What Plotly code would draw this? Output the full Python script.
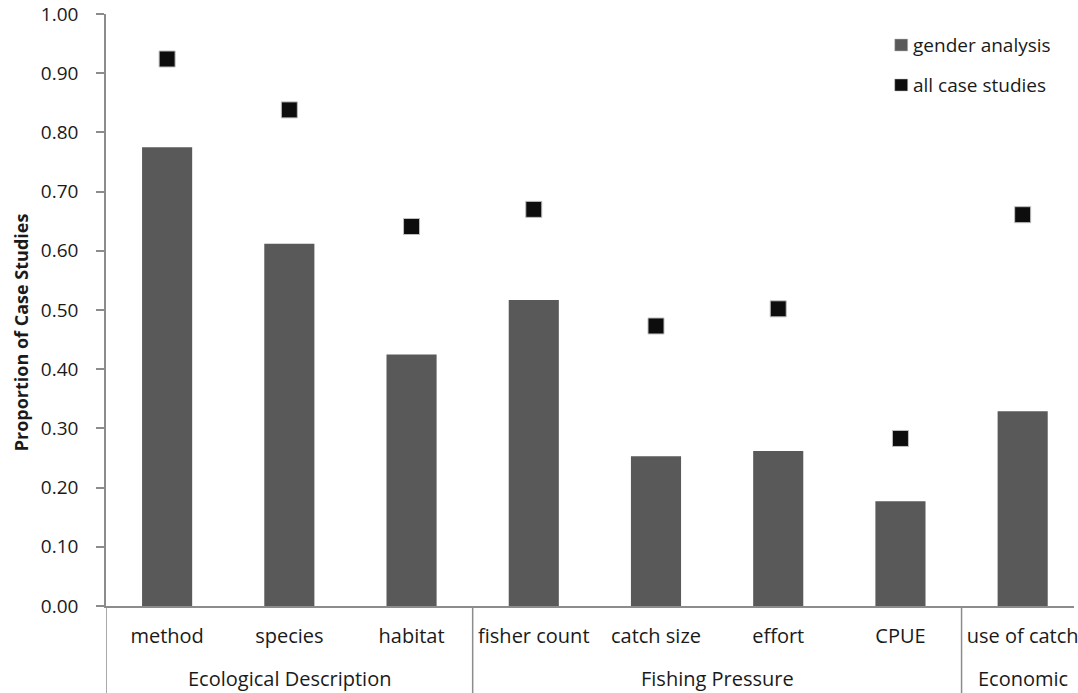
import plotly.graph_objects as go

categories = ["method", "species", "habitat", "fisher count", "catch size",
              "effort", "CPUE", "use of catch"]
group_names = ["Ecological Description", "Fishing Pressure", "Economic"]
group_sizes = [3, 4, 1]
gender_analysis = [0.775, 0.612, 0.425, 0.517, 0.253, 0.262, 0.177, 0.329]
all_case_studies = [0.924, 0.838, 0.641, 0.670, 0.473, 0.502, 0.283, 0.661]
y_ticks = [0.0, 0.1, 0.2, 0.3, 0.4, 0.5, 0.6, 0.7, 0.8, 0.9, 1.0]

FONT = "Open Sans"
AXIS_GREY = "#8c8c8c"
TEXT = "#1a1a1a"
BAR_COLOR = "#595959"
SQ_COLOR = "#0d0d0d"

W, H = 1078, 693
ML, MR, MT, MB = 106, 0, 14, 87
PW, PH = W - ML - MR, H - MT - MB


def px_x(p):
    return (p - ML) / PW


def px_y(p):
    return 1 - (p - MT) / PH


fig = go.Figure()
fig.add_trace(go.Bar(
    x=categories, y=gender_analysis, name="gender analysis",
    marker=dict(color=BAR_COLOR, line=dict(width=0)), width=0.41,
))
fig.add_trace(go.Scatter(
    x=categories, y=all_case_studies, name="all case studies",
    mode="markers",
    marker=dict(symbol="square", size=16, color=SQ_COLOR,
                line=dict(color="#bfbfbf", width=1)),
))

fig.update_layout(
    width=W, height=H,
    margin=dict(l=ML, r=MR, t=MT, b=MB, pad=0),
    paper_bgcolor="white", plot_bgcolor="white",
    font=dict(family=FONT, size=20, color=TEXT),
    showlegend=False,
)
fig.update_xaxes(
    type="category", range=[-0.5, 7.42],
    showline=True, linecolor=AXIS_GREY, linewidth=1.5,
    ticks="", showgrid=False, zeroline=False,
    tickfont=dict(size=20, family=FONT, color=TEXT),
    ticklabelstandoff=11,
)
fig.update_yaxes(
    range=[0, 1.0], tickvals=y_ticks, tickformat=".2f",
    showline=True, linecolor=AXIS_GREY, linewidth=1.5,
    ticks="outside", ticklen=8, tickcolor=AXIS_GREY, tickwidth=1.5,
    showgrid=False, zeroline=False,
    tickfont=dict(size=19, family=FONT, color=TEXT),
    ticklabelstandoff=14,
)

# group dividers below the category axis (including left edge)
bottom = -MB / PH
start = 0
bounds = [-0.5]
for n in group_sizes:
    start += n
    bounds.append(start - 0.5)
for b in bounds[:-1]:
    fig.add_shape(type="line", xref="x", yref="paper", x0=b, x1=b,
                  y0=0, y1=bottom, line=dict(color=AXIS_GREY, width=1.5))

# group labels
start = 0
for name, n in zip(group_names, group_sizes):
    center = start + (n - 1) / 2
    fig.add_annotation(text=name, xref="x", yref="paper", x=center,
                       y=px_y(678), xanchor="center", yanchor="middle",
                       showarrow=False, font=dict(size=20, family=FONT, color=TEXT))
    start += n

# manual legend
legend_items = [("gender analysis", BAR_COLOR, 45), ("all case studies", SQ_COLOR, 85)]
for label, color, yc in legend_items:
    fig.add_shape(type="rect", xref="paper", yref="paper",
                  x0=px_x(898), x1=px_x(911), y0=px_y(yc + 6), y1=px_y(yc - 6),
                  fillcolor=color, line=dict(color="#bfbfbf", width=0.5))
    fig.add_annotation(text=label, xref="paper", yref="paper",
                       x=px_x(914), y=px_y(yc), xanchor="left", yanchor="middle",
                       showarrow=False, font=dict(size=19, family=FONT, color=TEXT))

fig.add_annotation(
    text="<b>Proportion of Case Studies</b>", textangle=-90,
    xref="paper", yref="paper", x=px_x(21), y=px_y(332),
    xanchor="center", yanchor="middle",
    showarrow=False, font=dict(size=18, family=FONT, color=TEXT),
)

fig.write_html(
    "out.html",
    config={"displayModeBar": False},
    post_script="document.body.style.margin='0';document.body.style.overflow='hidden';",
)
